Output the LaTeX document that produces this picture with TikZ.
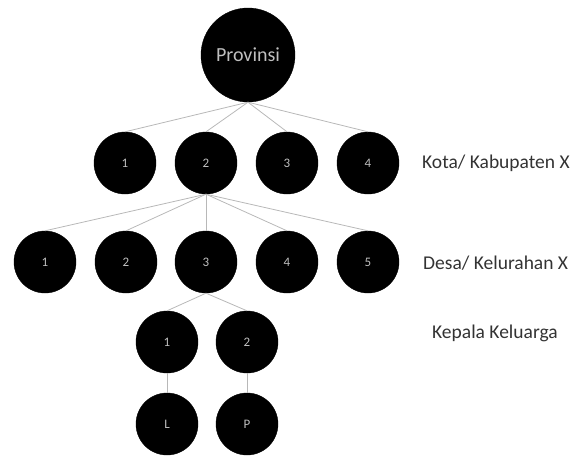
\documentclass[tikz,border=0pt]{standalone}
\usepackage{fontspec}
\setmainfont{Carlito}
\begin{document}
\begin{tikzpicture}[x=1pt,y=-1pt,
  circ/.style={circle, fill=black, draw=black, minimum size=62pt, inner sep=0pt, text=black!25, font=\fontsize{13}{15}\selectfont},
  big/.style={circ, minimum size=94pt, font=\fontsize{20}{24}\selectfont},
  link/.style={draw=black!28, line width=0.8pt},
  lbl/.style={anchor=west, inner sep=0pt, text=black!80, font=\fontsize{19.5}{23}\selectfont}]
\useasboundingbox (0,0) rectangle (582,458);
\node[big] (p) at (248,55) {Provinsi};
\node[circ] (k1) at (125,163) {1};
\node[circ] (k2) at (206,163) {2};
\node[circ] (k3) at (287,163) {3};
\node[circ] (k4) at (368,163) {4};
\node[circ] (d1) at (45,262) {1};
\node[circ] (d2) at (126,262) {2};
\node[circ] (d3) at (206,262) {3};
\node[circ] (d4) at (287,262) {4};
\node[circ] (d5) at (368,262) {5};
\node[circ] (f1) at (167,342) {1};
\node[circ] (f2) at (247,342) {2};
\node[circ] (m1) at (167,424) {L};
\node[circ] (m2) at (247,424) {P};
\foreach \c in {k1,k2,k3,k4} \draw[link] (p.south) -- (\c.north);
\foreach \c in {d1,d2,d3,d4,d5} \draw[link] (k2.south) -- (\c.north);
\foreach \c in {f1,f2} \draw[link] (d3.south) -- (\c.north);
\draw[link] (f1.south) -- (m1.north);
\draw[link] (f2.south) -- (m2.north);
\node[lbl] (t1) at (422,163) {Kota/ Kabupaten X};
\node[lbl] (t2) at (423,263) {Desa/ Kelurahan X};
\node[lbl] (t3) at (432,333) {Kepala Keluarga};
\end{tikzpicture}
\end{document}
